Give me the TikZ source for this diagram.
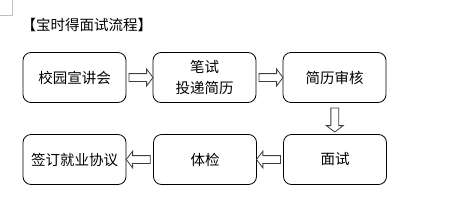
\documentclass[tikz,border=0pt]{standalone}
\usepackage{fontspec}
\setmainfont{Noto Sans CJK SC}
\usetikzlibrary{shapes.arrows,calc}

\begin{document}
\begin{tikzpicture}[x=1pt, y=1pt]
        \tikzset{stage/.style={
            draw,
            line width=0.8pt,
            rounded corners=8pt,
            minimum width=103pt,
            minimum height=50pt,
            inner sep=2pt,
            align=center,
            font=\fontsize{14.5}{21}\selectfont
        }}
        \tikzset{blockarrow/.style={
            draw=black!75,
            line width=0.8pt,
            fill=white,
            single arrow,
            minimum height=24pt,
            single arrow head extend=4.5pt,
            single arrow tip angle=106,
            inner sep=3.5pt
        }}
        \useasboundingbox (0,0) rectangle (470,-212);
        % page corner mark
        \draw[black!25, line width=0.8pt] (12,0) -- (12,-15) -- (0,-15);
        \node[anchor=west, font=\fontsize{14.5}{17}\selectfont] (title) at (18,-25) {【宝时得面试流程】};

        \node[stage] (xuanjiang) at (74.5,-77.5) {校园宣讲会};
        \node[stage] (bishi) at (204.5,-77.5) {笔试\\投递简历};
        \node[stage] (shenhe) at (334.5,-77.5) {简历审核};
        \node[stage] (mianshi) at (335,-159.5) {面试};
        \node[stage] (tijian) at (205,-159.5) {体检};
        \node[stage] (xieyi) at (74.5,-159.5) {签订就业协议};

        \node[blockarrow] at ($(xuanjiang.east)!0.5!(bishi.west)$) {};
        \node[blockarrow] at ($(bishi.east)!0.5!(shenhe.west)$) {};
        \node[blockarrow, shape border rotate=270] at ($(shenhe.south)!0.5!(mianshi.north)$) {};
        \node[blockarrow, shape border rotate=180] at ($(mianshi.west)!0.5!(tijian.east)$) {};
        \node[blockarrow, shape border rotate=180] at ($(tijian.west)!0.5!(xieyi.east)$) {};
\end{tikzpicture}
\end{document}
